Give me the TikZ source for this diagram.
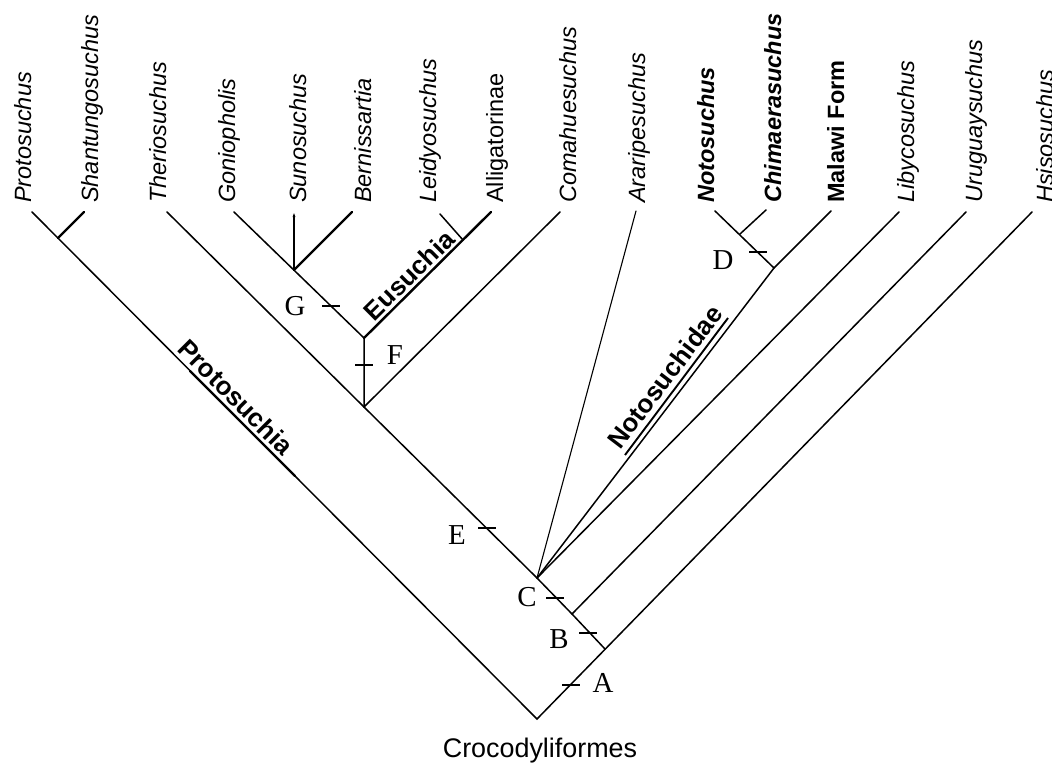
\documentclass[tikz,border=0pt]{standalone}
\usepackage{fontspec}
\setmainfont{Liberation Sans}
\newfontfamily\letterfont{Liberation Serif}
\usetikzlibrary{arrows.meta}

\begin{document}
\begin{tikzpicture}[x=1bp,y=-1bp,
  branch/.style={line width=1.5bp, line cap=round},
  thinbranch/.style={line width=1.1bp, line cap=round},
  heavy/.style={line width=2.4bp, line cap=round},
  taxon/.style={rotate=90, anchor=base west, inner sep=0pt,
    font=\fontsize{23.6}{26}\selectfont\itshape},
  taxonbf/.style={taxon, font=\fontsize{23.6}{26}\selectfont\bfseries\itshape},
  taxonup/.style={taxon, font=\fontsize{23.6}{26}\selectfont},
  clade/.style={inner sep=0pt, font=\fontsize{26}{30}\selectfont\bfseries},
  tickmark/.style={line width=1.5bp},
  letter/.style={inner sep=0pt, font=\letterfont\fontsize{29}{32}\selectfont}]

\fill[white] (0,0) rectangle (1052,764);
\useasboundingbox (0,0) rectangle (1052,764);
\clip (0,0) rectangle (1052,764);

% ---- branching points and branch tips
\coordinate (R)   at (537,719);
\coordinate (Pt)  at (32,212);
\coordinate (Shj) at (58,238);
\coordinate (Sht) at (84,212);
\coordinate (An)  at (605,649);
\coordinate (Hst) at (1032,212);
\coordinate (Bn)  at (572,614);
\coordinate (Urt) at (966,212);
\coordinate (Cn)  at (537,578);
\coordinate (Lyt) at (899,212);
\coordinate (Dn)  at (774,268);
\coordinate (Mat) at (831,211);
\coordinate (Not) at (715,211);
\coordinate (Chj) at (740,234);
\coordinate (Cht) at (766,210);
\coordinate (Art) at (636,211);
\coordinate (Fn)  at (364,407);
\coordinate (Tht) at (167,212);
\coordinate (Cot) at (560,212);
\coordinate (Eun) at (364,338);
\coordinate (Got) at (234,212);
\coordinate (Gn)  at (294,270);
\coordinate (Sut) at (294,212);
\coordinate (Bet) at (352,212);
\coordinate (Alt) at (491,212);
\coordinate (Lej) at (463,240);
\coordinate (Let) at (440,214);

% ---- tree
\draw[branch] (Pt) -- (R) -- (Hst);
\draw[heavy] (Shj) -- (Sht);
\draw[branch] (An) -- (Bn) -- (Cn) -- (Fn) -- (Tht);
\draw[branch] (Bn) -- (Urt);
\draw[branch] (Cn) -- (Lyt);
\draw[thinbranch] (Cn) -- (Art);
\draw[branch] (Cn) -- (Dn) -- (Mat);
\draw[branch] (Dn) -- (Not);
\draw[branch] (Chj) -- (Cht);
\draw[branch] (Fn) -- (Cot);
\draw[branch] (Fn) -- (Eun) -- (Got);
\draw[thinbranch, -{Latex[length=5bp,width=3bp]}] (Gn) -- (Sut);
\draw[heavy] (Gn) -- (Bet);
\draw[heavy] (Eun) -- (Alt);
\draw[branch] (Lej) -- (Let);

% heavier stretch of the stem under the Protosuchia label
\coordinate (Pu1) at (190,371);
\coordinate (Pu2) at (295,476);
\draw[heavy] (Pu1) -- (Pu2);

% underline of Notosuchidae
\coordinate (Nu1) at (625,455);
\coordinate (Nu2) at (728,318);
\draw[line width=1.9bp] (Nu1) -- (Nu2);

% ---- terminal taxa
\node[taxon]   (tProto)  at (31,203)   {Protosuchus};
\node[taxon]   (tShant)  at (98,203)   {Shantungosuchus};
\node[taxon]   (tTherio) at (166,203)  {Theriosuchus};
\node[taxon]   (tGonio)  at (235,203)  {Goniopholis};
\node[taxon]   (tSuno)   at (306,203)  {Sunosuchus};
\node[taxon]   (tBern)   at (371,203)  {Bernissartia};
\node[taxon]   (tLeidy)  at (436,203)  {Leidyosuchus};
\node[taxonup] (tAllig)  at (503,203)  {Alligatorinae};
\node[taxon]   (tComa)   at (576,203)  {Comahuesuchus};
\node[taxon]   (tArari)  at (645,203)  {Araripesuchus};
\node[taxonbf] (tNoto)   at (714,203)  {Notosuchus};
\node[taxonbf] (tChim)   at (781,203)  {Chimaerasuchus};
\node[taxon, font=\fontsize{23.6}{26}\selectfont\bfseries] (tMalawi) at (844,203) {Malawi Form};
\node[taxon]   (tLiby)   at (914,203)  {Libycosuchus};
\node[taxon]   (tUrug)   at (982,203)  {Uruguaysuchus};
\node[taxon]   (tHsiso)  at (1053,203) {Hsisosuchus};

% ---- clade names
\node[clade, rotate=-45.1] (lProto) at (236,397) {Protosuchia};
\node[clade, rotate=44.8]  (lEusu)  at (409,275) {Eusuchia};
\node[clade, rotate=52.7]  (lNoto)  at (665,377) {Notosuchidae};
\node[inner sep=0pt, anchor=base, font=\fontsize{27}{30}\selectfont] (lCroc) at (540,757) {Crocodyliformes};

% ---- character marks
\coordinate (kA) at (571,685);
\coordinate (kB) at (588,633);
\coordinate (kC) at (555,598);
\coordinate (kD) at (758,252);
\coordinate (kE) at (487,528);
\coordinate (kF) at (364,365);
\coordinate (kG) at (331,306);
\foreach \k in {kA,kB,kC,kD,kE,kF,kG}
  \draw[tickmark] ([xshift=-9bp]\k) -- ([xshift=9bp]\k);

\node[letter] (nA) at (603,683) {A};
\node[letter] (nB) at (559,639) {B};
\node[letter] (nC) at (527,597) {C};
\node[letter] (nD) at (723,260) {D};
\node[letter] (nE) at (457,535) {E};
\node[letter] (nF) at (395,355) {F};
\node[letter] (nG) at (295,306) {G};
\end{tikzpicture}
\end{document}
